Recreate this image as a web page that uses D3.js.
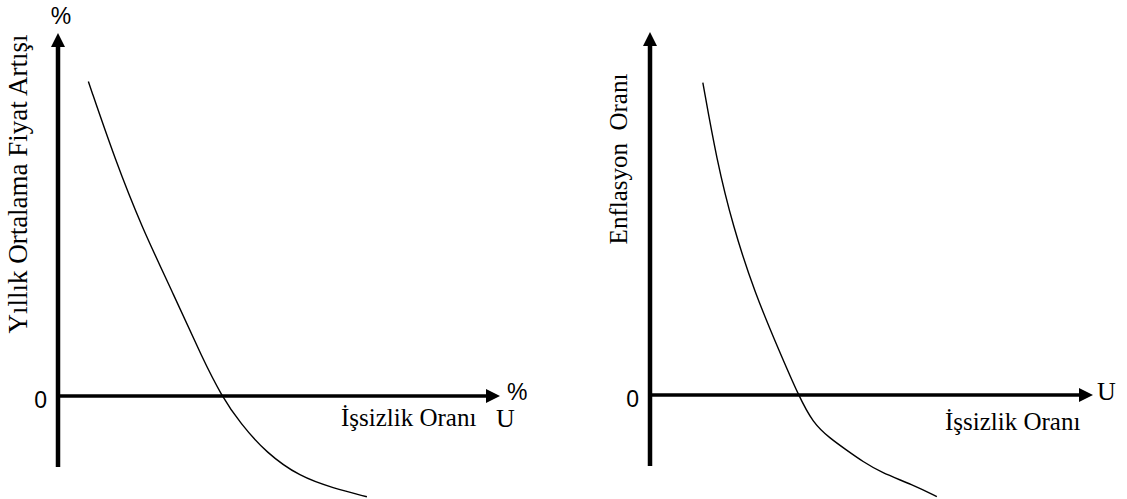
<!DOCTYPE html>
<html>
<head>
<meta charset="utf-8">
<script src="https://cdn.jsdelivr.net/npm/d3@7/dist/d3.min.js"></script>
<style>
  html, body { margin: 0; padding: 0; background: #fff; }
  svg { display: block; }
  .serif { font-family: "Liberation Serif", "Times New Roman", serif; }
  .sans { font-family: "Liberation Sans", Arial, sans-serif; }
</style>
</head>
<body>
<script>
// ---- data ----
const leftU   = [0.69, 1.30, 1.90, 2.61, 3.30, 3.72, 4.14, 4.74, 5.50, 6.25, 7.02];
const leftInf = [7.86, 5.90, 4.23, 2.58, 0.90, 0.00, -0.68, -1.43, -2.02, -2.30, -2.52];
const rightU   = [1.19, 1.50, 1.87, 2.36, 2.93, 3.34, 3.67, 4.05, 4.43, 4.80, 5.18, 5.92, 6.46];
const rightInf = [7.81, 5.88, 4.21, 2.55, 1.05, 0.00, -0.70, -1.08, -1.38, -1.67, -1.92, -2.25, -2.54];
const tickLabels = ["0"];
const leftYTitle = "Yıllık Ortalama Fiyat Artışı";
const rightYTitle = "Enflasyon  Oranı";
const xTitle = "İşsizlik Oranı";

const W = 1127, H = 499;
const svg = d3.select("body").append("svg").attr("width", W).attr("height", H);

function panel(cfg) {
  const x = d3.scaleLinear().domain([0, 10]).range([cfg.x0, cfg.x0 + cfg.xLen]);
  const y = d3.scaleLinear().domain([0, 1]).range([cfg.y0, cfg.y0 - 40]);
  const g = svg.append("g");

  // vertical axis
  const yTop = 9.075, yBot = -1.775;
  g.append("line")
    .attr("x1", x(0)).attr("x2", x(0))
    .attr("y1", y(yBot)).attr("y2", y(yTop) + 12)
    .attr("stroke", "#000").attr("stroke-width", 4.5);
  g.append("path")
    .attr("d", `M${x(0)},${y(yTop)} L${x(0) - 7},${y(yTop) + 14} L${x(0) + 7},${y(yTop) + 14} Z`)
    .attr("fill", "#000");

  // horizontal axis
  const xEnd = cfg.xTip;
  g.append("line")
    .attr("x1", x(0)).attr("x2", x(xEnd) - 12)
    .attr("y1", y(0)).attr("y2", y(0))
    .attr("stroke", "#000").attr("stroke-width", 3.5);
  g.append("path")
    .attr("d", `M${x(xEnd)},${y(0)} L${x(xEnd) - 14},${y(0) - 7} L${x(xEnd) - 14},${y(0) + 7} Z`)
    .attr("fill", "#000");

  // curve
  const pts = cfg.u.map((d, i) => [d, cfg.inf[i]]);
  g.append("path")
    .datum(pts)
    .attr("fill", "none")
    .attr("stroke", "#000")
    .attr("stroke-width", 1.4)
    .attr("d", d3.line().x(d => x(d[0])).y(d => y(d[1])).curve(d3.curveBasis));

  // tick label 0
  g.append("text").attr("class", "sans")
    .attr("x", x(0) - 11).attr("y", y(0) + 12)
    .attr("text-anchor", "end").attr("font-size", 23)
    .text(tickLabels[0]);

  // y title
  g.append("text").attr("class", "serif")
    .attr("transform", `translate(${cfg.yTitleX},${cfg.yTitleY}) rotate(-90)`)
    .attr("text-anchor", "middle").attr("font-size", cfg.yTitleSize)
    .style("white-space", "pre")
    .text(cfg.yTitle);

  // x title
  g.append("text").attr("class", "serif")
    .attr("x", cfg.xTitleX).attr("y", cfg.xTitleY)
    .attr("font-size", 25)
    .text(xTitle);

  return { x, y, g };
}

const L = panel({
  x0: 58, xLen: 440, y0: 396, xTip: (500 - 58) / 44,
  u: leftU, inf: leftInf,
  yTitle: leftYTitle, yTitleX: 27, yTitleY: 184, yTitleSize: 27,
  xTitleX: 341, xTitleY: 426
});
// extra labels left
L.g.append("text").attr("class", "sans")
  .attr("x", L.x(0) + 3).attr("y", 24)
  .attr("text-anchor", "middle").attr("font-size", 23).text("%");
L.g.append("text").attr("class", "sans")
  .attr("x", 507).attr("y", 400)
  .attr("font-size", 23).text("%");
L.g.append("text").attr("class", "serif")
  .attr("x", 496).attr("y", 427)
  .attr("font-size", 26).text("U");

const R = panel({
  x0: 650, xLen: 444, y0: 395, xTip: (1093 - 650) / 44.4,
  u: rightU, inf: rightInf,
  yTitle: rightYTitle, yTitleX: 627, yTitleY: 159, yTitleSize: 25,
  xTitleX: 945, xTitleY: 430
});
R.g.append("text").attr("class", "serif")
  .attr("x", 1097).attr("y", 400)
  .attr("font-size", 26).text("U");
</script>
</body>
</html>
